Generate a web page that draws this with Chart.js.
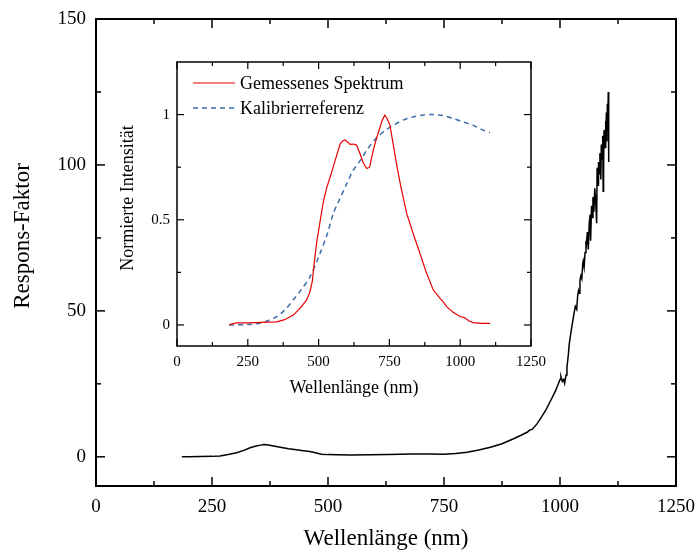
<!DOCTYPE html>
<html>
<head>
<meta charset="utf-8">
<script src="https://cdn.jsdelivr.net/npm/chart.js@4.4.1/dist/chart.umd.min.js"></script>
<style>
  html, body { margin: 0; padding: 0; background: #fff; }
  #wrap { position: relative; width: 697px; height: 554px; }
  #main-chart { position: absolute; left: 0; top: 0; }
  #inset-chart { position: absolute; left: 100px; top: 45px; }
</style>
</head>
<body>
<div id="wrap">
  <canvas id="main-chart" width="697" height="554"></canvas>
  <canvas id="inset-chart" width="450" height="360"></canvas>
</div>
<script>
// Hauptdiagramm: Respons-Faktor
const mainWl = [185, 200, 225, 250, 267, 285, 303, 320, 332, 345, 355, 362, 368, 380, 397, 415, 432, 447, 461, 473, 486, 500, 519, 550, 590, 630, 680, 720, 750, 775, 800, 825, 850, 875, 900, 915, 930, 935, 940, 950, 960, 970, 980, 990, 995, 1000, 1002, 1005, 1008, 1010, 1013, 1015, 1018, 1020, 1023, 1026, 1030, 1033, 1036, 1038, 1040, 1042, 1043, 1045, 1047, 1049, 1050, 1052, 1054, 1056, 1057, 1059, 1061, 1063, 1065, 1066, 1068, 1070, 1071, 1073, 1075, 1077, 1079, 1080, 1082, 1083, 1085, 1086, 1088, 1089, 1091, 1092, 1093, 1094, 1095, 1097, 1098, 1099, 1100, 1101, 1102, 1103, 1104, 1105];
const mainResp = [0, 0.05, 0.1, 0.15, 0.3, 0.8, 1.4, 2.3, 3.1, 3.7, 4.0, 4.2, 4.1, 3.8, 3.3, 2.8, 2.4, 2.1, 1.8, 1.4, 0.9, 0.75, 0.7, 0.65, 0.7, 0.8, 1.0, 0.95, 0.9, 1.1, 1.6, 2.3, 3.3, 4.5, 6.2, 7.3, 8.5, 9.2, 9.4, 11.2, 13.6, 16.2, 19.3, 22.5, 24.4, 26.5, 27.5, 25.8, 26.5, 25.2, 28, 30.7, 35, 38.8, 42, 45, 49, 51.5, 50.5, 55, 57, 56, 60.5, 62, 61, 66, 67, 65, 70, 74, 73, 77, 71, 80, 83, 74, 86, 82, 89, 84, 92, 87, 80, 99, 93, 101, 97, 104, 95, 107, 102, 110, 91, 100, 112, 106, 115, 110, 118, 108, 121, 112, 125, 101];

// Inset: Spektren
const specWl = [184, 195, 211, 250, 300, 352, 380, 411, 435, 458, 470, 478, 485, 493, 505, 516, 528, 540, 558, 576, 585, 593, 602, 611, 622, 634, 646, 658, 670, 680, 693, 705, 717, 725, 734, 742, 752, 762, 775, 790, 811, 835, 858, 880, 905, 929, 940, 952, 975, 999, 1015, 1030, 1046, 1075, 1105];
const specVal = [0, 0.005, 0.01, 0.01, 0.012, 0.015, 0.025, 0.047, 0.08, 0.119, 0.16, 0.21, 0.3, 0.39, 0.49, 0.58, 0.65, 0.70, 0.78, 0.86, 0.875, 0.88, 0.87, 0.858, 0.86, 0.855, 0.815, 0.77, 0.744, 0.75, 0.83, 0.89, 0.94, 0.975, 0.997, 0.98, 0.95, 0.87, 0.767, 0.66, 0.53, 0.43, 0.34, 0.25, 0.166, 0.126, 0.11, 0.087, 0.06, 0.04, 0.035, 0.02, 0.011, 0.008, 0.008];
const refWl = [184, 250, 293, 320, 352, 380, 411, 440, 470, 505, 530, 552, 575, 599, 620, 646, 675, 705, 735, 764, 800, 834, 870, 905, 940, 976, 1010, 1046, 1075, 1105];
const refVal = [0, 0.002, 0.008, 0.02, 0.04, 0.07, 0.12, 0.17, 0.23, 0.34, 0.43, 0.53, 0.60, 0.67, 0.73, 0.78, 0.84, 0.89, 0.925, 0.949, 0.975, 0.989, 0.998, 1.0, 0.995, 0.981, 0.965, 0.949, 0.93, 0.914];

// Achsenbeschriftung
const xTicks = [0, 250, 500, 750, 1000, 1250];
const xMinor = [125, 375, 625, 875, 1125];
const mainYTicks = [0, 50, 100, 150];
const mainYMinor = [25, 75, 125];
const insetYTicks = [0, 0.5, 1];
const insetYMinor = [0.25, 0.75];
const legendLabels = ['Gemessenes Spektrum', 'Kalibrierreferenz'];

const FONT = '"Liberation Serif", "Times New Roman", serif';
const pts = (xs, ys) => xs.map((x, i) => ({ x, y: ys[i] }));

// Rahmen + nach innen zeigende Ticks auf allen vier Seiten, Titel, Legende
const frameTicks = {
    id: 'frameTicks',
    afterDraw(chart, args, o) {
        const { ctx, chartArea: a } = chart;
        const sx = chart.scales.x, sy = chart.scales.y;
        ctx.save();
        ctx.strokeStyle = '#000';
        ctx.lineWidth = o.lw;
        ctx.strokeRect(a.left, a.top, a.right - a.left, a.bottom - a.top);
        ctx.lineWidth = o.tw;
        const line = (x1, y1, x2, y2) => { ctx.beginPath(); ctx.moveTo(x1, y1); ctx.lineTo(x2, y2); ctx.stroke(); };
        const xt = (vals, len) => vals.forEach(v => {
            const p = sx.getPixelForValue(v);
            line(p, a.bottom, p, a.bottom - len);
            line(p, a.top, p, a.top + len);
        });
        const yt = (vals, len) => vals.forEach(v => {
            const p = sy.getPixelForValue(v);
            line(a.left, p, a.left + len, p);
            line(a.right, p, a.right - len, p);
        });
        xt(o.xMajor, o.major); xt(o.xMinor, o.minor);
        yt(o.yMajor, o.major); yt(o.yMinor, o.minor);

        ctx.fillStyle = '#000';
        ctx.font = o.titleSize + 'px ' + FONT;
        ctx.textAlign = 'center';
        ctx.textBaseline = 'middle';
        ctx.fillText(o.xTitle, (a.left + a.right) / 2, o.xTitleY);
        ctx.translate(o.yTitleX, o.yTitleY);
        ctx.rotate(-Math.PI / 2);
        ctx.fillText(o.yTitle, 0, 0);
        ctx.restore();

        if (o.legend) {
            ctx.save();
            ctx.font = o.titleSize + 'px ' + FONT;
            ctx.textBaseline = 'middle';
            ctx.textAlign = 'left';
            chart.data.datasets.forEach((ds, i) => {
                const ly = o.legend.y + i * o.legend.gap;
                ctx.strokeStyle = ds.borderColor;
                ctx.lineWidth = ds.borderWidth;
                ctx.setLineDash(ds.borderDash || []);
                ctx.beginPath();
                ctx.moveTo(o.legend.x, ly);
                ctx.lineTo(o.legend.x + 42, ly);
                ctx.stroke();
                ctx.setLineDash([]);
                ctx.fillStyle = '#000';
                ctx.fillText(ds.label, o.legend.x + 47, ly + 1);
            });
            ctx.restore();
        }
    }
};

function axisX(fontSize, pad, height) {
    return {
        type: 'linear', min: 0, max: 1250,
        afterBuildTicks: s => { s.ticks = xTicks.map(v => ({ value: v })); },
        afterFit: s => { s.height = height; s.paddingLeft = 0; s.paddingRight = 0; },
        grid: { display: false, drawTicks: false },
        border: { display: false },
        ticks: { color: '#000', font: { family: FONT, size: fontSize }, padding: pad, maxRotation: 0, callback: v => String(v) }
    };
}

function axisY(min, max, ticks, fontSize, pad, width) {
    return {
        type: 'linear', min, max,
        afterBuildTicks: s => { s.ticks = ticks.map(v => ({ value: v })); },
        afterFit: s => { s.width = width; s.paddingTop = 0; s.paddingBottom = 0; },
        grid: { display: false, drawTicks: false },
        border: { display: false },
        ticks: { color: '#000', font: { family: FONT, size: fontSize }, padding: pad, callback: v => String(v) }
    };
}

new Chart(document.getElementById('main-chart').getContext('2d'), {
    type: 'line',
    data: {
        datasets: [{
            label: 'Respons-Faktor',
            data: pts(mainWl, mainResp),
            borderColor: '#000',
            borderWidth: 1.5,
            pointRadius: 0,
            tension: 0
        }]
    },
    options: {
        responsive: false,
        animation: false,
        layout: { padding: { top: 19, right: 21, left: 0, bottom: 0 } },
        scales: {
            x: axisX(19, 10, 68),
            y: axisY(-10, 150, mainYTicks, 19, 10, 96)
        },
        plugins: {
            legend: { display: false },
            tooltip: { enabled: false },
            frameTicks: {
                lw: 2, tw: 1.5, major: 9, minor: 5,
                xMajor: xTicks, xMinor: xMinor, yMajor: mainYTicks, yMinor: mainYMinor,
                titleSize: 23, xTitle: 'Wellenlänge (nm)', xTitleY: 539,
                yTitle: 'Respons-Faktor', yTitleX: 23, yTitleY: 236
            }
        }
    },
    plugins: [frameTicks]
});

new Chart(document.getElementById('inset-chart').getContext('2d'), {
    type: 'line',
    data: {
        datasets: [{
            label: legendLabels[0],
            data: pts(specWl, specVal),
            borderColor: '#e60000',
            borderWidth: 1.2,
            pointRadius: 0,
            tension: 0
        }, {
            label: legendLabels[1],
            data: pts(refWl, refVal),
            borderColor: '#3a6ea8',
            borderWidth: 1.5,
            borderDash: [5, 4],
            pointRadius: 0,
            tension: 0.3
        }]
    },
    options: {
        responsive: false,
        animation: false,
        layout: { padding: { top: 17, right: 19, left: 0, bottom: 0 } },
        scales: {
            x: axisX(15, 7, 59),
            y: axisY(-0.1, 1.25, insetYTicks, 15, 7, 77)
        },
        plugins: {
            legend: { display: false },
            tooltip: { enabled: false },
            frameTicks: {
                lw: 1.5, tw: 1.2, major: 7, minor: 4,
                xMajor: xTicks, xMinor: xMinor, yMajor: insetYTicks, yMinor: insetYMinor,
                titleSize: 18, xTitle: 'Wellenlänge (nm)', xTitleY: 343,
                yTitle: 'Normierte Intensität', yTitleX: 28, yTitleY: 153,
                legend: { x: 93, y: 38, gap: 25 }
            }
        }
    },
    plugins: [frameTicks]
});
</script>
</body>
</html>
